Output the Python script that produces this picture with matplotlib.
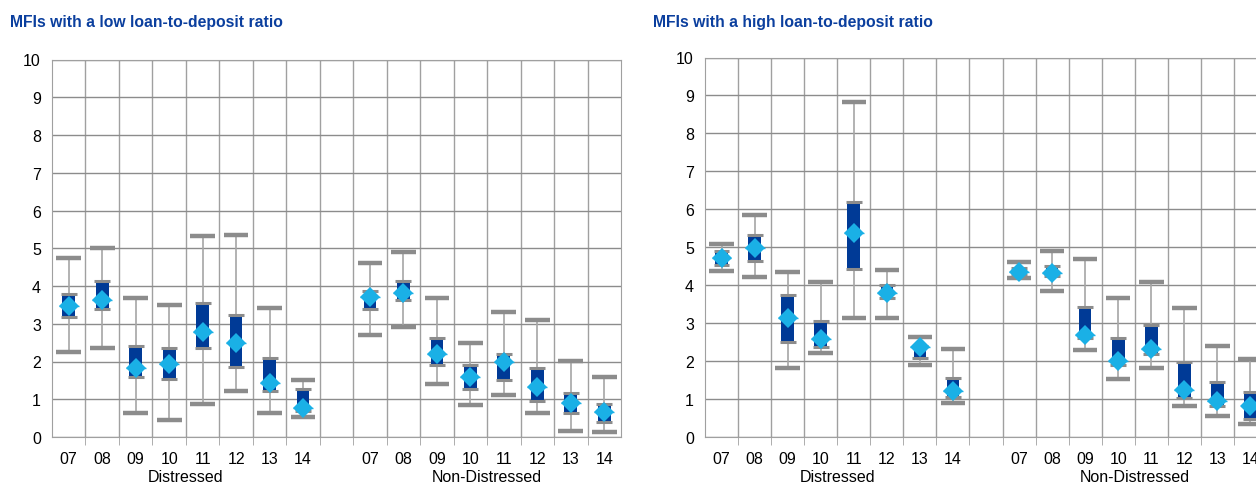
import numpy as np
import matplotlib.pyplot as plt
from matplotlib.transforms import blended_transform_factory

plt.rcParams['font.family'] = ['Liberation Sans', 'DejaVu Sans']

years = ["07", "08", "09", "10", "11", "12", "13", "14"]
groups = ["Distressed", "Non-Distressed"]

# low loan-to-deposit ratio: Distressed then Non-Distressed
low_max = [4.74, 5.01, 3.68, 3.49, 5.33, 5.36, 3.41, 1.51,
           4.62, 4.89, 3.69, 2.50, 3.32, 3.11, 2.01, 1.60]
low_q3 = [3.80, 4.12, 2.42, 2.37, 3.54, 3.24, 2.08, 1.26,
          3.88, 4.13, 2.61, 1.91, 2.21, 1.82, 1.17, 0.87]
low_q1 = [3.17, 3.40, 1.58, 1.53, 2.35, 1.85, 1.21, 0.68,
          3.40, 3.62, 1.90, 1.26, 1.51, 0.95, 0.63, 0.40]
low_min = [2.24, 2.37, 0.64, 0.46, 0.87, 1.23, 0.63, 0.52,
           2.69, 2.92, 1.41, 0.85, 1.12, 0.63, 0.15, 0.13]
low_mean = [3.48, 3.62, 1.82, 1.93, 2.77, 2.48, 1.43, 0.77,
            3.71, 3.81, 2.21, 1.59, 1.98, 1.33, 0.91, 0.67]

# high loan-to-deposit ratio
high_max = [5.09, 5.85, 4.36, 4.08, 8.84, 4.39, 2.64, 2.31,
            4.60, 4.91, 4.68, 3.65, 4.09, 3.41, 2.41, 2.06]
high_q3 = [4.90, 5.33, 3.73, 3.05, 6.19, 4.00, 2.40, 1.55,
           4.45, 4.51, 3.43, 2.61, 2.95, 1.97, 1.44, 1.18]
high_q1 = [4.53, 4.64, 2.50, 2.37, 4.44, 3.66, 2.08, 1.05,
           4.28, 4.24, 2.61, 1.90, 2.18, 1.04, 0.82, 0.48]
high_min = [4.37, 4.21, 1.81, 2.21, 3.13, 3.14, 1.91, 0.90,
            4.18, 3.84, 2.28, 1.53, 1.82, 0.81, 0.55, 0.34]
high_mean = [4.71, 4.97, 3.14, 2.57, 5.37, 3.80, 2.37, 1.20,
             4.36, 4.32, 2.69, 2.01, 2.32, 1.24, 0.95, 0.83]

box_col = '#003A96'
mean_col = '#1AB0E6'
cap_col = '#8C8C8C'
grid_col = '#A0A0A0'
title_col = '#0B3F9E'
fs = 11.5

xpos = np.array(list(range(8)) + list(range(9, 17)))


def draw_panel(ax, vmax, q3, q1, vmin, mean):
    ax.set_xlim(-0.5, 16.5)
    ax.set_ylim(0, 10)
    ax.set_axisbelow(True)
    ax.vlines(xpos, vmin, vmax, color='#A6A6A6', lw=1.2, zorder=2)
    ax.hlines(vmax, xpos - 0.37, xpos + 0.37, color=cap_col, lw=3.2, zorder=3)
    ax.hlines(vmin, xpos - 0.37, xpos + 0.37, color=cap_col, lw=3.2, zorder=3)
    heights = np.array(q3) - np.array(q1)
    ax.bar(xpos, heights, bottom=q1, width=0.38, color=box_col, zorder=3)
    ax.hlines(q3, xpos - 0.24, xpos + 0.24, color=cap_col, lw=2.2, zorder=4)
    ax.hlines(q1, xpos - 0.24, xpos + 0.24, color=cap_col, lw=2.2, zorder=4)
    ax.hlines(mean, xpos - 0.3, xpos + 0.3, color=mean_col, lw=1, zorder=5)
    ax.plot(xpos, mean, 'D', color=mean_col, ms=10, mew=0, zorder=6)

    ax.set_yticks(range(0, 11))
    ax.set_xticks(xpos)
    ax.set_xticklabels(years + years)
    ax.set_xticks(np.arange(0.5, 16.5, 1), minor=True)
    ax.tick_params(axis='x', which='major', length=0, pad=10, labelsize=fs)
    ax.tick_params(axis='x', which='minor', length=6, color=grid_col)
    ax.tick_params(axis='y', length=0, pad=8, labelsize=fs)
    ax.grid(axis='x', which='minor', color=grid_col, lw=1)
    ax.grid(axis='y', which='major', color='#8C8C8C', lw=1)
    for s in ax.spines.values():
        s.set_color(grid_col)
    trans = blended_transform_factory(ax.transData, ax.transAxes)
    ax.text(3.5, -0.105, groups[0], transform=trans, ha='center', va='center', fontsize=fs)
    ax.text(12.5, -0.105, groups[1], transform=trans, ha='center', va='center', fontsize=fs)


fig = plt.figure(figsize=(12.56, 4.85), dpi=100)
ax1 = fig.add_axes([52 / 1256, 1 - 438 / 485, 569 / 1256, 377.5 / 485])
ax2 = fig.add_axes([705 / 1256, 1 - 438 / 485, 562 / 1256, 379.5 / 485])

draw_panel(ax1, low_max, low_q3, low_q1, low_min, low_mean)
draw_panel(ax2, high_max, high_q3, high_q1, high_min, high_mean)

fig.text(10 / 1256, 1 - 22.5 / 485, "MFIs with a low loan-to-deposit ratio",
         color=title_col, fontsize=11.3, fontweight='bold', va='center')
fig.text(653 / 1256, 1 - 22.5 / 485, "MFIs with a high loan-to-deposit ratio",
         color=title_col, fontsize=11.3, fontweight='bold', va='center')

fig.savefig("out.png", dpi=100)
